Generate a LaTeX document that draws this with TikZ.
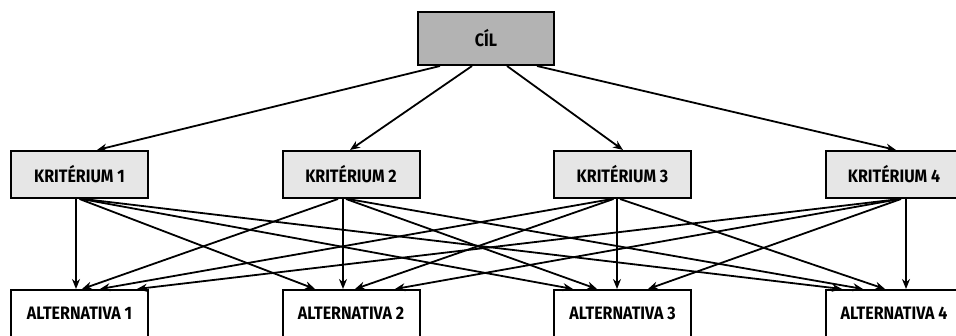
\documentclass[tikz,border=0pt]{standalone}
\usepackage{fontspec}
\setmainfont{Fira Sans}[BoldFont={* Bold},BoldFeatures={FakeStretch=0.89}]
\usetikzlibrary{arrows.meta}
\begin{document}
\begin{tikzpicture}[x=1pt,y=-1pt,
  box/.style={draw=black,line width=2pt,minimum width=137pt,minimum height=47pt,inner sep=0pt,
    font=\fontsize{18}{20}\selectfont\bfseries},
  goal/.style={box,fill=goalgray,minimum width=136pt,minimum height=53pt},
  crit/.style={box,fill=critgray},
  alt/.style={box,fill=white},
  edge/.style={line width=1.8pt,-{Stealth[length=10pt,width=8pt]}}]
\definecolor{goalgray}{HTML}{B3B3B3}
\definecolor{critgray}{HTML}{E6E6E6}
\clip (0,0) rectangle (956,336);
\fill[white] (0,0) rectangle (956,336);
\node[goal] (cil) at (486,38.5) {CÍL};
\node[crit] (k1) at (79.5,174.5) {KRITÉRIUM 1};
\node[crit] (k2) at (351,174.5) {KRITÉRIUM 2};
\node[crit] (k3) at (622.5,174.5) {KRITÉRIUM 3};
\node[crit] (k4) at (894,174.5) {KRITÉRIUM 4};
\node[alt] (a1) at (79.5,313.5) {ALTERNATIVA 1};
\node[alt] (a2) at (351,313.5) {ALTERNATIVA 2};
\node[alt] (a3) at (622.5,313.5) {ALTERNATIVA 3};
\node[alt] (a4) at (894,313.5) {ALTERNATIVA 4};
% goal to criteria
\draw[edge] ([xshift=-46pt]cil.south) -- ([xshift=17.5pt]k1.north);
\draw[edge] ([xshift=-14pt]cil.south) -- ([xshift=-1pt]k2.north);
\draw[edge] ([xshift=21pt]cil.south) -- ([xshift=0.5pt]k3.north);
\draw[edge] ([xshift=51pt]cil.south) -- ([xshift=2pt]k4.north);
% criterion 1
\draw[edge] ([xshift=-3.5pt]k1.south) -- ([xshift=-3.5pt]a1.north);
\draw[edge] ([xshift=0pt]k1.south) -- ([xshift=-36pt]a2.north);
\draw[edge] ([xshift=2pt]k1.south) -- ([xshift=-49.5pt]a3.north);
\draw[edge] ([xshift=4pt]k1.south) -- ([xshift=-52pt]a4.north);
% criterion 2
\draw[edge] ([xshift=-13pt]k2.south) -- ([xshift=2.5pt]a1.north);
\draw[edge] ([xshift=-8pt]k2.south) -- ([xshift=-8pt]a2.north);
\draw[edge] ([xshift=-5pt]k2.south) -- ([xshift=-25.5pt]a3.north);
\draw[edge] ([xshift=-3pt]k2.south) -- ([xshift=-31pt]a4.north);
% criterion 3
\draw[edge] ([xshift=-10.5pt]k3.south) -- ([xshift=20.5pt]a1.north);
\draw[edge] ([xshift=-9pt]k3.south) -- ([xshift=4pt]a2.north);
\draw[edge] ([xshift=-5.5pt]k3.south) -- ([xshift=-5.5pt]a3.north);
\draw[edge] ([xshift=-2.5pt]k3.south) -- ([xshift=-9pt]a4.north);
% criterion 4
\draw[edge] ([xshift=6pt]k4.south) -- ([xshift=57.5pt]a1.north);
\draw[edge] ([xshift=6pt]k4.south) -- ([xshift=44pt]a2.north);
\draw[edge] ([xshift=7pt]k4.south) -- ([xshift=25.5pt]a3.north);
\draw[edge] ([xshift=12pt]k4.south) -- ([xshift=12pt]a4.north);
\end{tikzpicture}
\end{document}
